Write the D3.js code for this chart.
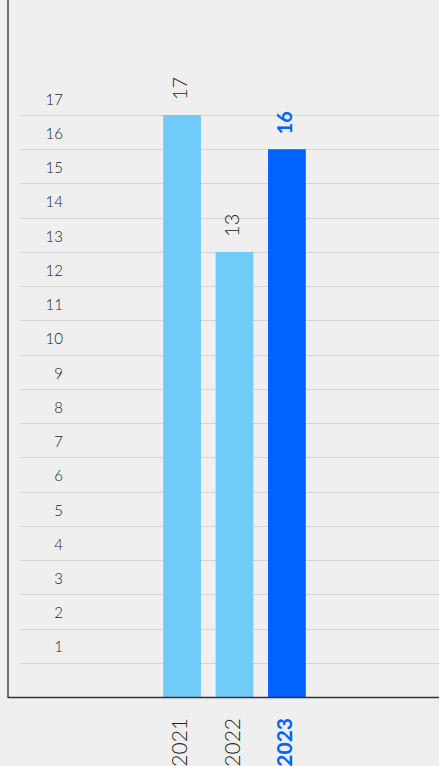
<!DOCTYPE html>
<html><head><meta charset="utf-8">
<script src="https://cdn.jsdelivr.net/npm/d3@7"></script>
<style>html,body{margin:0;padding:0;background:#efefef;overflow:hidden;}svg{display:block;}</style>
</head><body>
<script>
const categories = ["2021", "2022", "2023"];
const values = [17, 13, 16];
const highlight = [false, false, true];
const yTicks = [1,2,3,4,5,6,7,8,9,10,11,12,13,14,15,16,17];

const W = 439, H = 766;
const svg = d3.select("body").append("svg").attr("width", W).attr("height", H);
const font = "Lato, 'Open Sans', sans-serif";

const y = d3.scaleLinear().domain([0, 17]).range([697, 115]);
const x = d3.scaleBand().domain(categories).range([137, 332]).paddingInner(0.28).paddingOuter(0.5);

// gridlines
svg.append("g").selectAll("line").data(yTicks).join("line")
  .attr("x1", 20).attr("x2", W)
  .attr("y1", d => Math.round(y(d)) + 0.5).attr("y2", d => Math.round(y(d)) + 0.5)
  .attr("stroke", "#d4d4d4").attr("stroke-width", 1);

// y labels
svg.append("g").selectAll("text").data(yTicks).join("text")
  .attr("x", 63).attr("y", d => y(d) - 14)
  .attr("text-anchor", "end").attr("dominant-baseline", "middle")
  .attr("font-family", font).attr("font-size", 15).attr("font-weight", 300).attr("fill", "#222")
  .text(d => d);

// bars
svg.append("g").selectAll("rect").data(values).join("rect")
  .attr("x", (d, i) => x(categories[i]))
  .attr("width", x.bandwidth())
  .attr("y", d => y(d))
  .attr("height", d => y(0) - y(d))
  .attr("fill", (d, i) => highlight[i] ? "#0062ff" : "#70cbf9");

// value labels
svg.append("g").selectAll("text").data(values).join("text")
  .attr("transform", (d, i) => `translate(${x(categories[i]) + x.bandwidth()/2},${y(d) - 15}) rotate(-90)`)
  .attr("text-anchor", "start").attr("dominant-baseline", "middle")
  .attr("font-family", font).attr("font-size", 20)
  .attr("font-weight", (d, i) => highlight[i] ? "bold" : 300)
  .attr("fill", (d, i) => highlight[i] ? "#0062ff" : "#222")
  .text(d => d);

// x labels
svg.append("g").selectAll("text").data(categories).join("text")
  .attr("transform", d => `translate(${x(d) + x.bandwidth()/2},718) rotate(-90)`)
  .attr("text-anchor", "end").attr("dominant-baseline", "middle")
  .attr("font-family", font).attr("font-size", 21)
  .attr("font-weight", (d, i) => highlight[i] ? "bold" : 300)
  .attr("fill", (d, i) => highlight[i] ? "#0062ff" : "#222")
  .text(d => d);

// axes lines
svg.append("line").attr("x1", 8).attr("x2", 8).attr("y1", 0).attr("y2", 698)
  .attr("stroke", "#444").attr("stroke-width", 1.5);
svg.append("line").attr("x1", 8).attr("x2", W).attr("y1", 697.5).attr("y2", 697.5)
  .attr("stroke", "#333").attr("stroke-width", 1.5);
</script>
</body></html>
